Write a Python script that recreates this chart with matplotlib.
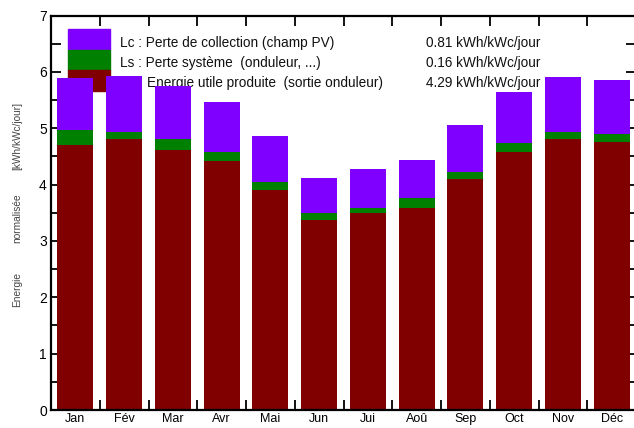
import matplotlib
matplotlib.use('Agg')
import matplotlib.pyplot as plt
import numpy as np
from matplotlib.patches import Rectangle

plt.rcParams['font.family'] = ['Liberation Sans', 'DejaVu Sans']

mois = ['Jan', 'Fév', 'Mar', 'Avr', 'Mai', 'Jun', 'Jui', 'Aoû', 'Sep', 'Oct', 'Nov', 'Déc']
# energie utile produite (Yf), pertes systeme (Ls), pertes de collection (Lc)  [kWh/kWc/jour]
yf = [4.70, 4.80, 4.62, 4.41, 3.91, 3.38, 3.49, 3.59, 4.09, 4.58, 4.80, 4.76]
ls = [0.27, 0.14, 0.18, 0.17, 0.14, 0.11, 0.10, 0.18, 0.14, 0.15, 0.14, 0.14]
lc = [0.92, 0.99, 0.95, 0.89, 0.82, 0.63, 0.68, 0.67, 0.82, 0.92, 0.96, 0.96]
legende = ['Lc : Perte de collection (champ PV)',
           'Ls : Perte système  (onduleur, ...)',
           'Energie utile produite  (sortie onduleur)']
valeurs = ['0.81 kWh/kWc/jour', '0.16 kWh/kWc/jour', '4.29 kWh/kWc/jour']

c_lc = '#8000ff'
c_ls = '#008000'
c_yf = '#800000'

W, H = 634, 428
fig = plt.figure(figsize=(W/100, H/100), dpi=100)
ax = fig.add_axes([51/W, 18/H, 585/W, 394.5/H])

x = np.arange(len(mois))
yf = np.array(yf); ls = np.array(ls); lc = np.array(lc)
ax.bar(x, yf, 0.74, color=c_yf, zorder=2)
ax.bar(x, ls, 0.74, bottom=yf, color=c_ls, zorder=2)
ax.bar(x, lc, 0.74, bottom=yf+ls, color=c_lc, zorder=2)

ax.set_xlim(-0.5, 11.5)
ax.set_ylim(0, 7)

# legende (dessinee derriere les barres)
def fy(py):
    return (410 - py) / 394.5
x0 = (68 - 51) / 585
w = 42 / 585
for col, top, bot in [(c_lc, 29, 50), (c_ls, 50, 70), (c_yf, 70, 91)]:
    ax.add_patch(Rectangle((x0, fy(bot)), w, fy(top) - fy(bot), transform=ax.transAxes,
                           color=col, zorder=0.5, clip_on=False))
for txt, val, px, py in zip(legende, valeurs, [120, 120, 147], [43, 63, 83]):
    ax.text((px - 51) / 585, fy(py), txt, transform=ax.transAxes, fontsize=9.8,
            va='center', ha='left', color='#111111', zorder=0.6)
    ax.text((426 - 51) / 585, fy(py), val, transform=ax.transAxes, fontsize=9.8,
            va='center', ha='left', color='#111111', zorder=0.6)

# ticks
ax.set_yticks(np.arange(0, 8, 1))
ax.set_yticks(np.arange(0.5, 7, 1), minor=True)
ax.set_xticks(np.arange(0.5, 11, 1))
ax.set_xticklabels([])
ax.set_xticks(x, minor=True)
ax.set_xticklabels(mois, minor=True)
ax.tick_params(axis='both', which='both', direction='in', width=1.3, colors='black',
               labelsize=10, top=True, right=True)
ax.tick_params(axis='y', which='both', length=7, pad=3)
ax.tick_params(axis='x', which='major', length=7)
ax.tick_params(axis='x', which='minor', length=0, pad=2.5, labelsize=9)
for s in ax.spines.values():
    s.set_linewidth(1.6)

# titre de l'axe y en trois morceaux
for txt, pbot in [('Energie', 307), ('normalisée', 243), ('[kWh/kWc/jour]', 170)]:
    fig.text(17.5/W, 1 - pbot/H, txt, rotation=90, fontsize=7.3, color='#444444',
             ha='center', va='bottom')

fig.savefig('out.png', dpi=100)
